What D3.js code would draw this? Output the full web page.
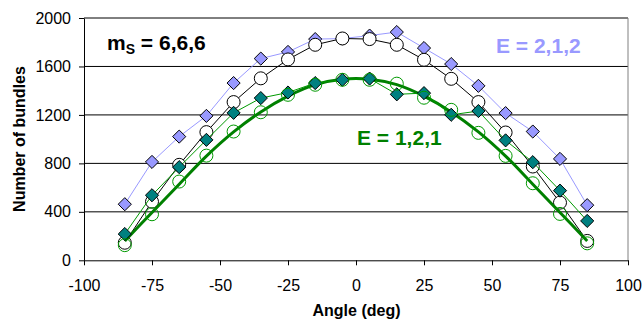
<!DOCTYPE html>
<html>
<head>
<meta charset="utf-8">
<script src="https://cdn.jsdelivr.net/npm/d3@7"></script>
<style>
  html, body { margin: 0; padding: 0; background: #fff; }
  svg { display: block; font-family: "Liberation Sans", Arial, sans-serif; }
</style>
</head>
<body>
<div id="chart"></div>
<script>
// angles (deg) of the measured points
const angles = [-85, -75, -65, -55, -45, -35, -25, -15, -5, 5, 15, 25, 35, 45, 55, 65, 75, 85];

// E = 2,1,2 (lavender diamonds)
const e212Diamonds = [463, 812, 1021, 1192, 1463, 1665, 1720, 1826, 1830, 1855, 1884, 1752, 1620, 1440, 1215, 1063, 837, 455];
// E = 2,1,2 (open circles)
const e212Circles = [145, 484, 788, 1058, 1306, 1502, 1658, 1779, 1831, 1826, 1779, 1655, 1498, 1306, 1055, 774, 476, 160];
// E = 1,2,1 (teal diamonds)
const e121Diamonds = [217, 537, 769, 994, 1217, 1339, 1385, 1463, 1490, 1500, 1370, 1380, 1201, 1232, 990, 810, 575, 325];
// E = 1,2,1 (green open circles)
const e121Circles = [125, 380, 650, 864, 1063, 1222, 1366, 1449, 1490, 1490, 1458, 1342, 1242, 1052, 862, 636, 383, 140];
// E = 1,2,1 smooth curve (thick green)
const e121Curve = [160, 395, 628, 860, 1060, 1225, 1355, 1450, 1495, 1495, 1450, 1355, 1225, 1060, 860, 628, 395, 160];

const xTicks = [-100, -75, -50, -25, 0, 25, 50, 75, 100];
const yTicks = [0, 400, 800, 1200, 1600, 2000];

const width = 643, height = 321;

const svg = d3.select("#chart").append("svg")
  .attr("width", width)
  .attr("height", height);

const x = d3.scaleLinear().domain([-100, 100]).range([84, 628]);
const y = d3.scaleLinear().domain([0, 2000]).range([260.3, 18]);

// gridlines
svg.append("g")
  .selectAll("line")
  .data(yTicks.filter(d => d > 0))
  .enter()
  .append("line")
  .attr("x1", x(-100))
  .attr("x2", x(100))
  .attr("y1", d => y(d))
  .attr("y2", d => y(d))
  .attr("stroke", "#000")
  .attr("stroke-width", 1);

// right border of plot area
svg.append("line")
  .attr("x1", x(100)).attr("x2", x(100))
  .attr("y1", y(2000)).attr("y2", y(0))
  .attr("stroke", "#808080")
  .attr("stroke-width", 1);

// axes
const xAxis = svg.append("g")
  .attr("transform", `translate(0,${y(0)})`)
  .call(d3.axisBottom(x).tickValues(xTicks).tickSize(5).tickSizeOuter(0).tickPadding(14).tickFormat(d => String(d)));

const yAxis = svg.append("g")
  .attr("transform", `translate(${x(-100)},0)`)
  .call(d3.axisLeft(y).tickValues(yTicks).tickSize(5).tickSizeOuter(0).tickPadding(8).tickFormat(d => String(d)));

[xAxis, yAxis].forEach(g => {
  g.selectAll("path, line").attr("stroke", "#000");
  g.selectAll("text")
    .attr("fill", "#000")
    .style("font-size", "16px")
    .style("font-family", "Liberation Sans, Arial, sans-serif");
});

// series helpers
const pts = vals => angles.map((a, i) => [a, vals[i]]);
const line = d3.line().x(d => x(d[0])).y(d => y(d[1]));
const diamond = d3.symbol().type(d3.symbolDiamond2).size(110);

function drawLine(vals, color, w, curve) {
  svg.append("path")
    .datum(pts(vals))
    .attr("fill", "none")
    .attr("stroke", color)
    .attr("stroke-width", w)
    .attr("stroke-linejoin", "round")
    .attr("d", curve ? line.curve(curve) : line.curve(d3.curveLinear));
}

function drawDiamonds(vals, fill) {
  svg.append("g")
    .selectAll("path")
    .data(pts(vals))
    .enter()
    .append("path")
    .attr("transform", d => `translate(${x(d[0])},${y(d[1])})`)
    .attr("d", diamond)
    .attr("fill", fill)
    .attr("stroke", "#000")
    .attr("stroke-width", 1);
}

function drawCircles(vals, fill, stroke) {
  svg.append("g")
    .selectAll("circle")
    .data(pts(vals))
    .enter()
    .append("circle")
    .attr("cx", d => x(d[0]))
    .attr("cy", d => y(d[1]))
    .attr("r", 6.5)
    .attr("fill", fill)
    .attr("stroke", stroke)
    .attr("stroke-width", 1);
}

// E = 2,1,2 diamonds
drawLine(e212Diamonds, "#9999FF", 1);
drawDiamonds(e212Diamonds, "#9999FF");

// open circles
drawLine(e212Circles, "#000", 1);
drawCircles(e212Circles, "#fff", "#000");

// thick green curve
drawLine(e121Curve, "#008000", 3, d3.curveCatmullRom);

// teal diamonds
drawLine(e121Diamonds, "#009900", 1);
drawDiamonds(e121Diamonds, "#008080");

// green open circles
drawCircles(e121Circles, "none", "#009900");

// annotations
const ms = svg.append("text")
  .attr("x", 107)
  .attr("y", 50)
  .attr("font-size", "21px")
  .attr("font-weight", "bold")
  .attr("fill", "#000");
ms.append("tspan").text("m");
ms.append("tspan").attr("font-size", "14px").attr("dy", 4).text("S");
ms.append("tspan").attr("dy", -4).text(" = 6,6,6");

svg.append("text")
  .attr("x", 496)
  .attr("y", 52.5)
  .attr("font-size", "21px")
  .attr("font-weight", "bold")
  .attr("fill", "#9999FF")
  .text("E = 2,1,2");

svg.append("text")
  .attr("x", 357)
  .attr("y", 145)
  .attr("font-size", "21px")
  .attr("font-weight", "bold")
  .attr("fill", "#008000")
  .text("E = 1,2,1");

// axis titles
svg.append("text")
  .attr("x", 356.5)
  .attr("y", 316)
  .attr("text-anchor", "middle")
  .attr("font-size", "16px")
  .attr("font-weight", "bold")
  .attr("fill", "#000")
  .text("Angle (deg)");

svg.append("text")
  .attr("transform", "translate(25,139) rotate(-90)")
  .attr("text-anchor", "middle")
  .attr("font-size", "16px")
  .attr("font-weight", "bold")
  .attr("fill", "#000")
  .text("Number of bundles");
</script>
</body>
</html>
